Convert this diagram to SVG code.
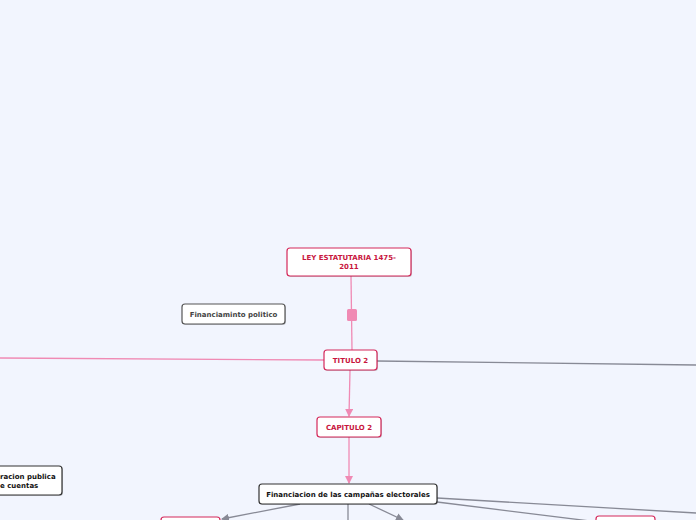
<svg xmlns="http://www.w3.org/2000/svg" width="696" height="520" viewBox="0 0 696 520">
<defs>
<style>
.bg{fill:#f2f5fe}
.n{fill:#fff;stroke-width:1.2}
.red{stroke:#d4285a}
.dk{stroke:#333}
.gr{stroke:#555}
.sh{fill:#000;opacity:0.18}
.t{font-family:"DejaVu Sans",Verdana,sans-serif;font-weight:bold;font-size:7px;text-anchor:middle}
.tr{fill:#c8163e}
.tk{fill:#111}
.tg{fill:#444}
.cp{stroke:#f08ab4;stroke-width:1.3;fill:none}
.cg{stroke:#888a96;stroke-width:1.3;fill:none}
</style>
<marker id="ap" markerWidth="8" markerHeight="8" refX="7" refY="4" orient="auto" markerUnits="userSpaceOnUse"><path d="M0,0 L8,4 L0,8 Z" fill="#f08ab4"/></marker>
<marker id="ag" markerWidth="8" markerHeight="8" refX="7" refY="4" orient="auto" markerUnits="userSpaceOnUse"><path d="M0,0 L8,4 L0,8 Z" fill="#888a96"/></marker>
</defs>
<rect class="bg" x="0" y="0" width="696" height="520"/>
<g id="connectors">
<path class="cp" d="M351,276 L352,350"/>
<rect x="347" y="309" width="10" height="12" rx="1.5" fill="#f08ab4"/>
<path class="cp" d="M324,360 L0,358"/>
<path class="cg" d="M377,361 L696,365"/>
<path class="cp" d="M350,370 L349,416" marker-end="url(#ap)"/>
<path class="cp" d="M349,437 L349,483" marker-end="url(#ap)"/>
<path class="cg" d="M300,504 L222,519" marker-end="url(#ag)"/>
<path class="cg" d="M348,504 L348,520"/>
<path class="cg" d="M369,504 L403,520" marker-end="url(#ag)"/>
<path class="cg" d="M437,498 L696,513"/>
<path class="cg" d="M437,502 L590,521"/>
</g>
<g id="ley">
<rect class="sh" x="288" y="249" width="124" height="28" rx="3"/>
<rect class="n red" x="287" y="248" width="124" height="28" rx="3"/>
<text class="t tr" x="349" y="260">LEY ESTATUTARIA 1475-</text>
<text class="t tr" x="349" y="269">2011</text>
</g>
<g id="financiaminto">
<rect class="sh" x="183" y="305" width="103" height="20" rx="3"/>
<rect class="n gr" x="182" y="304" width="103" height="20" rx="3"/>
<text class="t tg" x="233.5" y="316.5">Financiaminto politico</text>
</g>
<g id="titulo2">
<rect class="sh" x="325" y="351" width="53" height="20" rx="3"/>
<rect class="n red" x="324" y="350" width="53" height="20" rx="3"/>
<text class="t tr" x="350.5" y="362.5">TITULO 2</text>
</g>
<g id="capitulo2">
<rect class="sh" x="318" y="418" width="64" height="20" rx="3"/>
<rect class="n red" x="317" y="417" width="64" height="20" rx="3"/>
<text class="t tr" x="349" y="429.5">CAPITULO 2</text>
</g>
<g id="financiacion">
<rect class="sh" x="260" y="485" width="178" height="20" rx="3"/>
<rect class="n dk" x="259" y="484" width="178" height="20" rx="3"/>
<text class="t tk" x="348" y="496.5">Financiacion de las campañas electorales</text>
</g>
<g id="admin">
<rect class="sh" x="-9" y="467" width="72" height="29" rx="3"/>
<rect class="n dk" x="-10" y="466" width="72" height="29" rx="3"/>
<text class="t tk" x="0" y="479" style="text-anchor:start">racion publica</text>
<text class="t tk" x="0" y="488" style="text-anchor:start">e cuentas</text>
</g>
<g id="bottom-left">
<rect class="n red" x="161" y="517" width="59" height="20" rx="3"/>
</g>
<g id="bottom-right">
<rect class="n red" x="596" y="516" width="59" height="20" rx="3"/>
</g>
</svg>
